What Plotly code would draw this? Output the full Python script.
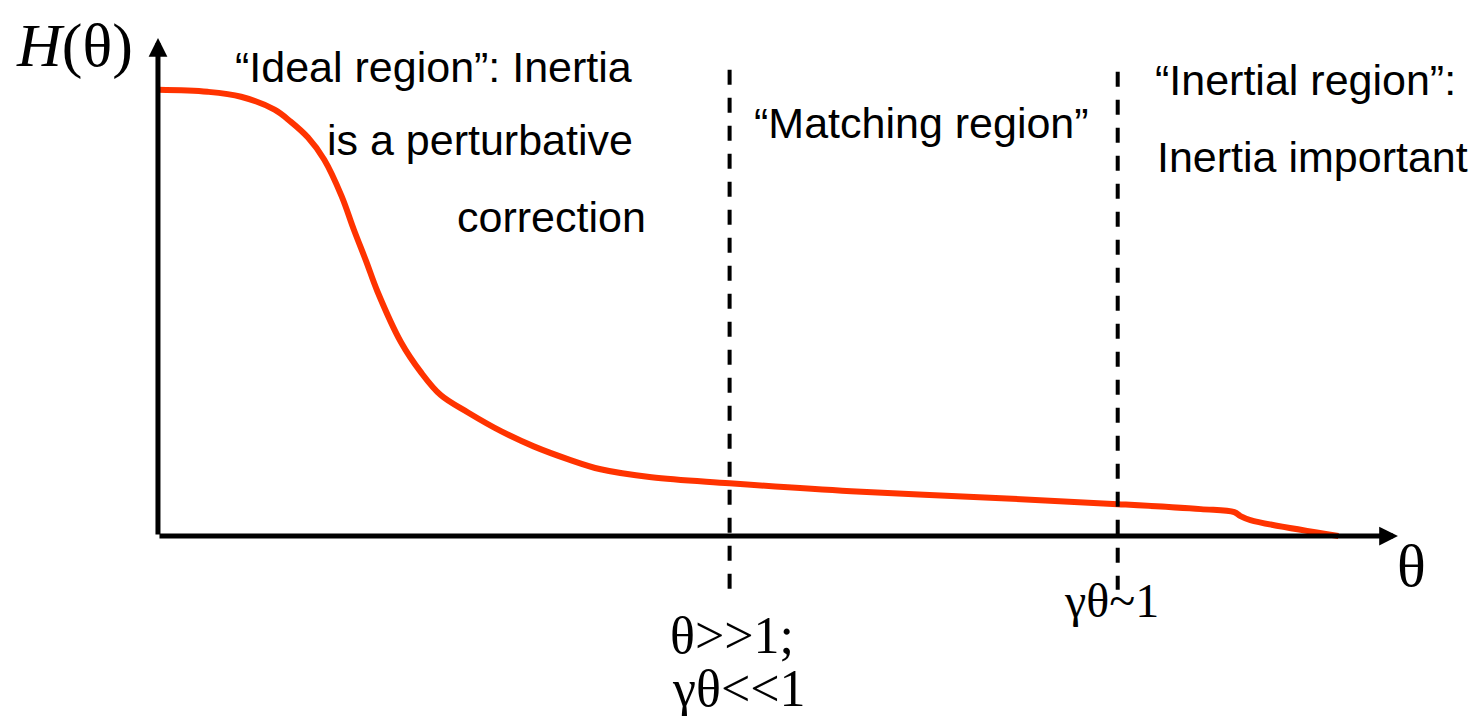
import plotly.graph_objects as go

# Response curve H(theta), in axis units (theta axis 0..10, H axis 0..1)
theta = [0, 0.40, 0.67, 0.94, 1.07, 1.21, 1.34, 1.48, 1.58, 1.68, 1.77, 1.96,
         2.12, 2.28, 2.50, 2.77, 3.03, 3.31, 3.57, 3.98, 4.61, 5.59, 6.80,
         7.74, 8.41, 8.68, 8.73, 8.81, 9.52]
H_vals = [0.896, 0.892, 0.882, 0.856, 0.832, 0.800, 0.756, 0.683, 0.615,
          0.551, 0.491, 0.389, 0.329, 0.283, 0.248, 0.210, 0.180, 0.154,
          0.134, 0.118, 0.106, 0.090, 0.076, 0.064, 0.054, 0.048, 0.040,
          0.032, 0.0]

# Region boundaries (theta positions) and their vertical extents
boundaries = [4.61, 7.74]
boundary_top = [0.936, 0.932]
boundary_bottom = [-0.114, -0.108]

# Axis arrow tips
theta_tip = 10.0
H_tip = 1.0

W, HGT = 1469, 716
X_RANGE = [-1.274, 10.573]
Y_RANGE = [-0.3614, 1.0763]

SANS = "Liberation Sans, Arial, sans-serif"
SERIF = "Liberation Serif, Times New Roman, serif"


def px(x, y):
    """Pixel position -> paper coordinates."""
    return x / W, 1 - y / HGT


fig = go.Figure()

fig.add_trace(go.Scatter(
    x=theta, y=H_vals, mode="lines",
    line=dict(color="#ff3300", width=6, shape="spline", smoothing=1.0),
    hoverinfo="skip", showlegend=False,
))

# Dashed region boundaries
for xb, yt, yb in zip(boundaries, boundary_top, boundary_bottom):
    fig.add_shape(type="line", x0=xb, x1=xb, y0=yt, y1=yb,
                  xref="x", yref="y",
                  line=dict(color="black", width=4, dash="15px,13px"))

# Axes with arrowheads
fig.add_annotation(x=theta_tip, y=0, ax=0, ay=0, xref="x", yref="y",
                   axref="x", ayref="y", text="", showarrow=True,
                   arrowhead=2, arrowsize=0.75, arrowwidth=5,
                   arrowcolor="black")
fig.add_annotation(x=0, y=H_tip, ax=0, ay=0, xref="x", yref="y",
                   axref="x", ayref="y", text="", showarrow=True,
                   arrowhead=2, arrowsize=0.75, arrowwidth=5,
                   arrowcolor="black")

labels = [
    # text, left px, center px, font family, size
    ("<i>H</i>(θ)", 14, 45, SERIF, 62),
    ("θ", 1395, 566, SERIF, 60),
    ("“Ideal region”: Inertia", 233, 67, SANS, 43),
    ("is a perturbative", 325, 140, SANS, 43),
    ("correction", 455, 217, SANS, 43),
    ("“Matching region”", 752, 123, SANS, 43),
    ("“Inertial region”:", 1153, 80, SANS, 43),
    ("Inertia important", 1155, 157, SANS, 43),
    ("θ>>1;", 668, 635, SERIF, 52),
    ("γθ<<1", 670, 688, SERIF, 52),
    ("γθ~1", 1062, 600, SERIF, 48),
]
for text, lx, cy, fam, size in labels:
    xp, yp = px(lx, cy)
    fig.add_annotation(x=xp, y=yp, xref="paper", yref="paper", text=text,
                       showarrow=False, xanchor="left", yanchor="middle",
                       font=dict(family=fam, size=size, color="black"))

fig.update_layout(
    width=W, height=HGT, autosize=False,
    margin=dict(l=0, r=0, t=0, b=0),
    paper_bgcolor="white", plot_bgcolor="white",
    xaxis=dict(range=X_RANGE, visible=False, fixedrange=True),
    yaxis=dict(range=Y_RANGE, visible=False, fixedrange=True),
    showlegend=False,
)

fig.write_html("out.html", config={"displayModeBar": False})
